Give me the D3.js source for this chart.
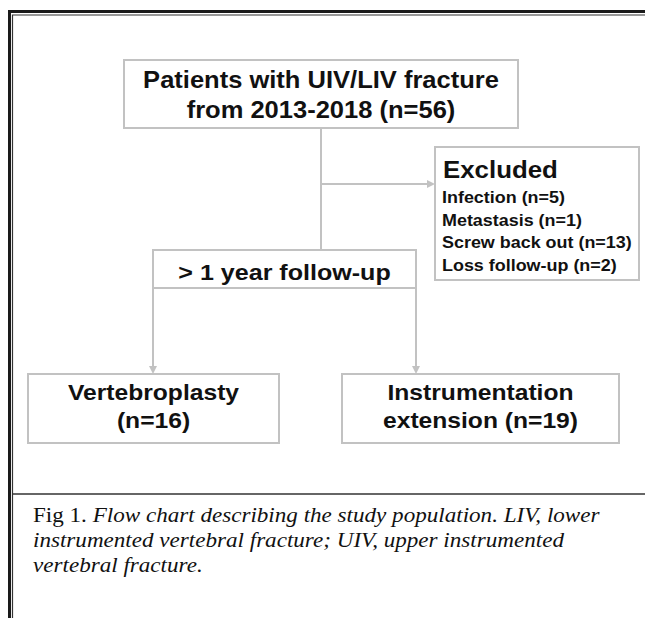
<!DOCTYPE html>
<html>
<head>
<meta charset="utf-8">
<script src="https://cdn.jsdelivr.net/npm/d3@7"></script>
<style>
  html, body { margin: 0; padding: 0; background: #fff; }
  svg { display: block; }
  .box { fill: #fff; stroke: #c2c2c2; stroke-width: 2; }
  .link { fill: none; stroke: #c2c2c2; stroke-width: 2; }
  .head { fill: #c2c2c2; }
  .lbl { font-family: 'Liberation Sans', Arial, sans-serif; font-weight: bold; fill: #111; }
  .cap { font-family: 'Liberation Serif', 'Times New Roman', serif; fill: #111; }
</style>
</head>
<body>
<svg width="645" height="618"></svg>
<script>

// Flow chart data
let totalN = 56;
let studyYears = ['2013', '2018'];
let followUp = '> 1 year follow-up';
let excludedReasons = ['Infection', 'Metastasis', 'Screw back out', 'Loss follow-up'];
let excludedN = [5, 1, 13, 2];
let groupNames = [['Vertebroplasty'], ['Instrumentation', 'extension']];
let groupN = [16, 19];
let captionLines = [
  ['Fig 1. ', 'Flow chart describing the study population. LIV, lower'],
  ['', 'instrumented vertebral fracture; UIV, upper instrumented'],
  ['', 'vertebral fracture.']
];

let svg = d3.select('svg');
let width = +svg.attr('width');
let height = +svg.attr('height');
let stretch = 1.1;   // the scanned figure is a little wider than plain Arial

// Box layout (x0, x1, y0, y1)
let topBox = { x0: 124, x1: 518, y0: 60, y1: 128 };
let fuBox = { x0: 153, x1: 416, y0: 250, y1: 288 };
let exBox = { x0: 435, x1: 639, y0: 147, y1: 280 };
let grpBoxes = [
  { x0: 28, x1: 279, y0: 374, y1: 443 },
  { x0: 342, x1: 619, y0: 374, y1: 443 }
];
let spineX = (topBox.x0 + topBox.x1) / 2;
let branchY = 184;

// Outer frame (double rule, runs off the right and bottom edge)
let frame = svg.append('g').attr('class', 'frame');
frame.append('path')
  .attr('d', `M9.5,${height} V11.5 H${width}`)
  .attr('fill', 'none').attr('stroke', '#1a1a1a').attr('stroke-width', 3);
frame.append('path')
  .attr('d', `M12.5,${height} V15 H${width}`)
  .attr('fill', 'none').attr('stroke', '#333').attr('stroke-width', 1.2);
frame.append('line')
  .attr('x1', 12).attr('x2', width)
  .attr('y1', 494).attr('y2', 494)
  .attr('stroke', '#333').attr('stroke-width', 1.5);

// Connectors
let links = svg.append('g');
links.append('line').attr('class', 'link')
  .attr('x1', spineX).attr('x2', spineX)
  .attr('y1', topBox.y1).attr('y2', fuBox.y0);
links.append('line').attr('class', 'link')
  .attr('x1', spineX).attr('x2', exBox.x0 - 6)
  .attr('y1', branchY).attr('y2', branchY);
links.append('path').attr('class', 'head')
  .attr('d', `M${exBox.x0},${branchY} l-8,-4 v8 z`);

// down arrows from the follow-up box corners
let dropX = [fuBox.x0, fuBox.x1];
links.selectAll('.drop')
  .data(dropX)
  .enter().append('line')
    .attr('class', 'link drop')
    .attr('x1', d => d).attr('x2', d => d)
    .attr('y1', fuBox.y1).attr('y2', grpBoxes[0].y0 - 6);
links.selectAll('.dhead')
  .data(dropX)
  .enter().append('path')
    .attr('class', 'head dhead')
    .attr('d', d => `M${d},${grpBoxes[0].y0} l-4,-8 h8 z`);

// Boxes
function drawBox(b) {
  svg.append('rect').attr('class', 'box')
    .attr('x', b.x0).attr('y', b.y0)
    .attr('width', b.x1 - b.x0).attr('height', b.y1 - b.y0);
}
[topBox, fuBox, exBox].concat(grpBoxes).forEach(drawBox);

// text placed with a slight horizontal stretch
function label(sel, x, y, size, anchor) {
  return sel.append('text')
    .attr('class', 'lbl')
    .attr('transform', `translate(${x},${y}) scale(${stretch},1)`)
    .attr('text-anchor', anchor || 'middle')
    .style('font-size', size + 'px');
}

// Top box text
let topLines = ['Patients with UIV/LIV fracture', `from ${studyYears[0]}-${studyYears[1]} (n=${totalN})`];
topLines.forEach((d, i) => {
  label(svg, spineX, 88 + i * 30, 23.2).text(d);
});

// Follow-up text
label(svg, (fuBox.x0 + fuBox.x1) / 2, 280, 22.8).text(followUp);

// Excluded box
label(svg, exBox.x0 + 8, 178, 23.5, 'start').text('Excluded');
excludedReasons.forEach((d, i) => {
  label(svg, exBox.x0 + 7, 203 + i * 22.5, 16.3, 'start')
    .text(`${d} (n=${excludedN[i]})`);
});

// Group boxes
grpBoxes.forEach((b, gi) => {
  let txt = groupNames[gi].length > 1
    ? [groupNames[gi][0], `${groupNames[gi][1]} (n=${groupN[gi]})`]
    : [groupNames[gi][0], `(n=${groupN[gi]})`];
  txt.forEach((d, i) => {
    label(svg, (b.x0 + b.x1) / 2, 400 + i * 28, 22.4).text(d);
  });
});

// Caption
let cap = svg.selectAll('.cap')
  .data(captionLines)
  .enter().append('text')
    .attr('class', 'cap')
    .attr('transform', (d, i) => `translate(33,${522 + i * 25}) scale(${stretch},1)`)
    .style('font-size', '21px');
cap.append('tspan').text(d => d[0]);
cap.append('tspan').style('font-style', 'italic').text(d => d[1]);

</script>
</body>
</html>
